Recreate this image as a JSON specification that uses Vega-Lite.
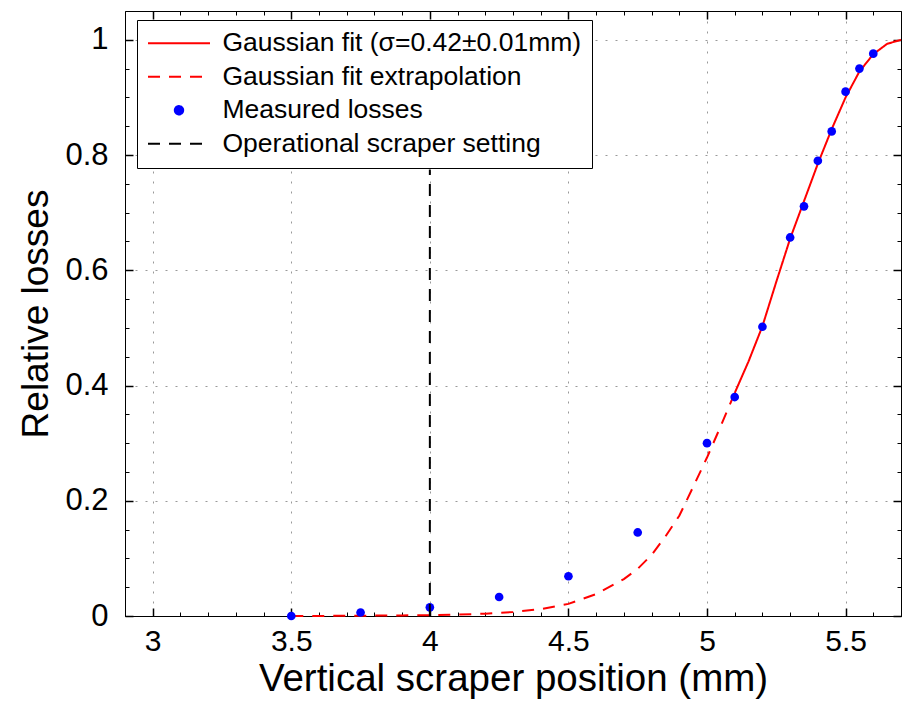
{
  "$schema": "https://vega.github.io/schema/vega-lite/v6.json",
  "width": 776,
  "height": 605,
  "autosize": {"type": "none"},
  "padding": {"left": 125, "top": 11, "right": 5, "bottom": 88},
  "background": "white",
  "config": {
    "view": {"stroke": null},
    "font": "Liberation Sans",
    "axis": {
      "domainColor": "black",
      "tickColor": "black",
      "labelColor": "black",
      "titleColor": "black",
      "labelFont": "Liberation Sans",
      "titleFont": "Liberation Sans",
      "titleFontWeight": "normal",
      "labelFlush": false,
      "labelOverlap": false
    }
  },
  "datasets": {
    "fit": [
      {"x": 3.5, "y": 0.0, "series": "Gaussian fit extrapolation"},
      {"x": 3.6, "y": 0.0, "series": "Gaussian fit extrapolation"},
      {"x": 3.7, "y": 0.0005, "series": "Gaussian fit extrapolation"},
      {"x": 3.8, "y": 0.0007, "series": "Gaussian fit extrapolation"},
      {"x": 3.9, "y": 0.001, "series": "Gaussian fit extrapolation"},
      {"x": 4.0, "y": 0.0015, "series": "Gaussian fit extrapolation"},
      {"x": 4.1, "y": 0.0025, "series": "Gaussian fit extrapolation"},
      {"x": 4.2, "y": 0.004, "series": "Gaussian fit extrapolation"},
      {"x": 4.3, "y": 0.007, "series": "Gaussian fit extrapolation"},
      {"x": 4.4, "y": 0.012, "series": "Gaussian fit extrapolation"},
      {"x": 4.5, "y": 0.021, "series": "Gaussian fit extrapolation"},
      {"x": 4.6, "y": 0.038, "series": "Gaussian fit extrapolation"},
      {"x": 4.7, "y": 0.064, "series": "Gaussian fit extrapolation"},
      {"x": 4.75, "y": 0.082, "series": "Gaussian fit extrapolation"},
      {"x": 4.8, "y": 0.106, "series": "Gaussian fit extrapolation"},
      {"x": 4.85, "y": 0.138, "series": "Gaussian fit extrapolation"},
      {"x": 4.9, "y": 0.174, "series": "Gaussian fit extrapolation"},
      {"x": 4.95, "y": 0.224, "series": "Gaussian fit extrapolation"},
      {"x": 5.0, "y": 0.275, "series": "Gaussian fit extrapolation"},
      {"x": 5.05, "y": 0.33, "series": "Gaussian fit extrapolation"},
      {"x": 5.1, "y": 0.387, "series": "Gaussian fit extrapolation"}
    ],
    "fitsolid": [
      {"x": 5.1, "y": 0.387, "series": "Gaussian fit (σ=0.42±0.01mm)"},
      {"x": 5.15, "y": 0.442, "series": "Gaussian fit (σ=0.42±0.01mm)"},
      {"x": 5.2, "y": 0.503, "series": "Gaussian fit (σ=0.42±0.01mm)"},
      {"x": 5.25, "y": 0.58, "series": "Gaussian fit (σ=0.42±0.01mm)"},
      {"x": 5.3, "y": 0.655, "series": "Gaussian fit (σ=0.42±0.01mm)"},
      {"x": 5.35, "y": 0.72, "series": "Gaussian fit (σ=0.42±0.01mm)"},
      {"x": 5.4, "y": 0.785, "series": "Gaussian fit (σ=0.42±0.01mm)"},
      {"x": 5.45, "y": 0.845, "series": "Gaussian fit (σ=0.42±0.01mm)"},
      {"x": 5.5, "y": 0.9, "series": "Gaussian fit (σ=0.42±0.01mm)"},
      {"x": 5.55, "y": 0.945, "series": "Gaussian fit (σ=0.42±0.01mm)"},
      {"x": 5.6, "y": 0.975, "series": "Gaussian fit (σ=0.42±0.01mm)"},
      {"x": 5.65, "y": 0.993, "series": "Gaussian fit (σ=0.42±0.01mm)"},
      {"x": 5.7, "y": 1.0, "series": "Gaussian fit (σ=0.42±0.01mm)"}
    ],
    "measured": [
      {"x": 3.5, "y": 0.0, "series": "Measured losses"},
      {"x": 3.75, "y": 0.006, "series": "Measured losses"},
      {"x": 4.0, "y": 0.015, "series": "Measured losses"},
      {"x": 4.25, "y": 0.033, "series": "Measured losses"},
      {"x": 4.5, "y": 0.069, "series": "Measured losses"},
      {"x": 4.75, "y": 0.145, "series": "Measured losses"},
      {"x": 5.0, "y": 0.3, "series": "Measured losses"},
      {"x": 5.1, "y": 0.38, "series": "Measured losses"},
      {"x": 5.2, "y": 0.502, "series": "Measured losses"},
      {"x": 5.3, "y": 0.657, "series": "Measured losses"},
      {"x": 5.35, "y": 0.711, "series": "Measured losses"},
      {"x": 5.4, "y": 0.79, "series": "Measured losses"},
      {"x": 5.45, "y": 0.841, "series": "Measured losses"},
      {"x": 5.5, "y": 0.91, "series": "Measured losses"},
      {"x": 5.55, "y": 0.95, "series": "Measured losses"},
      {"x": 5.6, "y": 0.976, "series": "Measured losses"}
    ],
    "scraper": [
      {"x": 4.0, "y": 0.0, "y2": 0.775, "series": "Operational scraper setting"}
    ]
  },
  "layer": [
    {
      "data": {"name": "fit"},
      "mark": {"type": "line", "strokeWidth": 2},
      "encoding": {
        "x": {
          "field": "x", "type": "quantitative",
          "scale": {"domain": [2.9, 5.7], "nice": false, "zero": false},
          "axis": {
            "orient": "bottom", "values": [3, 3.5, 4, 4.5, 5, 5.5], "format": "~g",
            "grid": true, "gridDash": [2, 8], "gridColor": "#999", "gridWidth": 1,
            "tickSize": -8, "tickWidth": 1.5, "labelFontSize": 30, "labelPadding": 18,
            "title": "Vertical scraper position (mm)", "titleFontSize": 38.5, "titlePadding": 4
          }
        },
        "y": {
          "field": "y", "type": "quantitative",
          "scale": {"domain": [0, 1.05], "nice": false, "zero": false},
          "axis": {
            "orient": "left", "values": [0, 0.2, 0.4, 0.6, 0.8, 1], "format": "~g",
            "grid": true, "gridDash": [2, 8], "gridColor": "#999", "gridWidth": 1,
            "tickSize": -8, "tickWidth": 1.5, "labelFontSize": 31, "labelPadding": 25,
            "title": "Relative losses", "titleFontSize": 37, "titlePadding": 9
          }
        },
        "color": {
          "field": "series", "type": "nominal",
          "scale": {
            "domain": ["Gaussian fit (σ=0.42±0.01mm)", "Gaussian fit extrapolation", "Measured losses", "Operational scraper setting"],
            "range": ["#ff0000", "#ff0000", "#0000ff", "#000000"]
          },
          "legend": {
            "orient": "none", "legendX": 12, "legendY": 9,
            "title": null,
            "symbolType": "M-3.1,0H3.1", "symbolSize": 400, "symbolStrokeWidth": 2,
            "labelFontSize": 26.5, "labelFont": "Liberation Sans", "labelColor": "black",
            "labelOffset": 49, "labelLimit": 0,
            "padding": 10, "rowPadding": 6.5,
            "strokeColor": "black", "fillColor": "white", "cornerRadius": 0,
            "encode": {
              "symbols": {
                "update": {
                  "shape": {"signal": "datum.value === 'Measured losses' ? 'circle' : 'M-3.1,0H3.1'"},
                  "size": {"signal": "datum.value === 'Measured losses' ? 70 : 400"},
                  "fill": {"signal": "datum.value === 'Measured losses' ? '#0000ff' : 'transparent'"},
                  "x": {"value": 32},
                  "strokeWidth": {"value": 2}
                }
              }
            }
          }
        },
        "strokeDash": {
          "field": "series", "type": "nominal",
          "scale": {
            "domain": ["Gaussian fit (σ=0.42±0.01mm)", "Gaussian fit extrapolation", "Measured losses", "Operational scraper setting"],
            "range": [[1, 0], [12, 9], [1, 0], [12, 9]]
          }
        }
      }
    },
    {
      "data": {"name": "fitsolid"},
      "mark": {"type": "line", "strokeWidth": 2},
      "encoding": {
        "x": {
          "field": "x", "type": "quantitative",
          "axis": {
            "orient": "bottom",
            "values": [2.9, 3, 3.1, 3.2, 3.3, 3.4, 3.5, 3.6, 3.7, 3.8, 3.9, 4, 4.1, 4.2, 4.3, 4.4, 4.5, 4.6, 4.7, 4.8, 4.9, 5, 5.1, 5.2, 5.3, 5.4, 5.5, 5.6, 5.7],
            "labels": false, "domain": false, "grid": false, "tickSize": -4, "title": null
          }
        },
        "y": {
          "field": "y", "type": "quantitative",
          "axis": {
            "orient": "left",
            "values": [0, 0.05, 0.1, 0.15, 0.2, 0.25, 0.3, 0.35, 0.4, 0.45, 0.5, 0.55, 0.6, 0.65, 0.7, 0.75, 0.8, 0.85, 0.9, 0.95, 1],
            "labels": false, "domain": false, "grid": false, "tickSize": -4, "title": null
          }
        },
        "color": {"field": "series", "type": "nominal"},
        "strokeDash": {"field": "series", "type": "nominal"}
      }
    },
    {
      "data": {"name": "measured"},
      "mark": {"type": "point", "filled": true, "opacity": 1, "size": 75},
      "encoding": {
        "x": {
          "field": "x", "type": "quantitative",
          "axis": {
            "orient": "top", "values": [3, 3.5, 4, 4.5, 5, 5.5],
            "labels": false, "domain": true, "grid": false, "tickSize": -8, "tickWidth": 1.5, "title": null
          }
        },
        "y": {
          "field": "y", "type": "quantitative",
          "axis": {
            "orient": "right", "values": [0, 0.2, 0.4, 0.6, 0.8, 1],
            "labels": false, "domain": true, "grid": false, "tickSize": -8, "tickWidth": 1.5, "title": null
          }
        },
        "color": {"field": "series", "type": "nominal"}
      }
    },
    {
      "data": {"name": "scraper"},
      "mark": {"type": "rule", "strokeWidth": 2},
      "encoding": {
        "x": {
          "field": "x", "type": "quantitative",
          "axis": {
            "orient": "top",
            "values": [2.9, 3, 3.1, 3.2, 3.3, 3.4, 3.5, 3.6, 3.7, 3.8, 3.9, 4, 4.1, 4.2, 4.3, 4.4, 4.5, 4.6, 4.7, 4.8, 4.9, 5, 5.1, 5.2, 5.3, 5.4, 5.5, 5.6, 5.7],
            "labels": false, "domain": false, "grid": false, "tickSize": -4, "title": null
          }
        },
        "y": {
          "field": "y", "type": "quantitative",
          "axis": {
            "orient": "right",
            "values": [0, 0.05, 0.1, 0.15, 0.2, 0.25, 0.3, 0.35, 0.4, 0.45, 0.5, 0.55, 0.6, 0.65, 0.7, 0.75, 0.8, 0.85, 0.9, 0.95, 1],
            "labels": false, "domain": false, "grid": false, "tickSize": -4, "title": null
          }
        },
        "y2": {"field": "y2"},
        "color": {"field": "series", "type": "nominal"},
        "strokeDash": {"field": "series", "type": "nominal"}
      }
    }
  ],
  "resolve": {"axis": {"x": "independent", "y": "independent"}}
}
